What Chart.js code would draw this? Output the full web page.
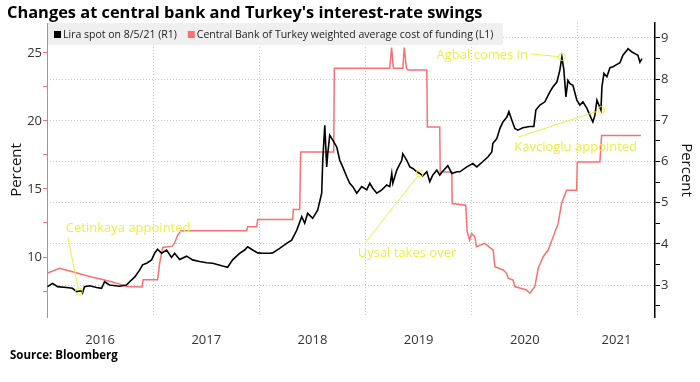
<!DOCTYPE html>
<html><head><meta charset="utf-8">
<script src="https://cdn.jsdelivr.net/npm/chart.js@4.4.1/dist/chart.umd.min.js"></script>
<style>
html,body{margin:0;padding:0;background:#fff;}
#wrap{position:relative;width:700px;height:382px;overflow:hidden;background:#fff;}
canvas{position:absolute;left:0;top:0;}
#title{position:absolute;left:7px;top:0px;font-family:"Open Sans",sans-serif;font-weight:700;font-size:16.4px;line-height:24px;color:#000;white-space:nowrap;}
#source{position:absolute;left:10px;top:347px;font-family:"Open Sans",sans-serif;font-weight:700;font-size:11.5px;line-height:16px;color:#000;white-space:nowrap;}
</style></head><body>
<div id="wrap">
<canvas id="c" width="700" height="382"></canvas>
<div id="title">Changes at central bank and Turkey's interest-rate swings</div>
<div id="source">Source: Bloomberg</div>
</div>
<script>
// ---- data (x in decimal years) ----
const liraT = [2016.005,2016.052,2016.099,2016.184,2016.240,2016.278,2016.325,2016.335,2016.353,2016.401,2016.467,2016.514,2016.542,2016.589,2016.683,2016.749,2016.778,2016.825,2016.872,2016.900,2016.938,2016.985,
2017.013,2017.041,2017.079,2017.126,2017.173,2017.202,2017.249,2017.315,2017.371,2017.437,2017.503,2017.560,2017.654,2017.701,2017.748,2017.814,2017.861,2017.890,2017.937,2017.984,
2018.031,2018.097,2018.125,2018.191,2018.257,2018.304,2018.352,2018.399,2018.427,2018.455,2018.502,2018.549,2018.587,2018.597,2018.616,2018.634,2018.644,2018.663,2018.691,2018.729,2018.757,2018.785,2018.823,2018.851,2018.880,2018.917,2018.964,
2019.011,2019.040,2019.068,2019.106,2019.153,2019.200,2019.228,2019.247,2019.257,2019.294,2019.341,2019.351,2019.388,2019.417,2019.445,2019.483,2019.511,2019.539,2019.577,2019.605,2019.633,2019.671,2019.699,2019.723,2019.775,2019.812,2019.860,2019.888,2019.954,
2020.010,2020.048,2020.105,2020.152,2020.189,2020.199,2020.237,2020.265,2020.294,2020.331,2020.350,2020.378,2020.406,2020.434,2020.481,2020.547,2020.585,2020.604,2020.642,2020.689,2020.736,2020.764,2020.802,2020.830,2020.849,2020.868,2020.887,2020.906,2020.925,2020.953,2020.990,
2021.019,2021.047,2021.085,2021.113,2021.141,2021.160,2021.179,2021.198,2021.217,2021.226,2021.245,2021.273,2021.302,2021.330,2021.368,2021.396,2021.424,2021.462,2021.471,2021.509,2021.537,2021.565,2021.584,2021.603];
const liraV = [2.96,3.04,2.96,2.94,2.92,2.84,2.86,2.81,2.96,2.98,2.94,2.92,3.08,3.00,2.97,3.00,3.08,3.19,3.36,3.49,3.53,3.61,
3.77,3.87,3.77,3.85,3.67,3.77,3.62,3.70,3.61,3.57,3.54,3.53,3.46,3.43,3.61,3.77,3.85,3.93,3.85,3.78,
3.77,3.77,3.78,3.89,4.01,4.09,4.33,4.66,4.50,4.74,4.62,4.82,5.23,6.03,6.88,5.87,6.19,6.64,6.52,6.35,6.03,5.87,5.63,5.47,5.39,5.23,5.39,
5.31,5.47,5.35,5.23,5.31,5.43,5.39,5.71,5.47,5.79,6.03,6.19,6.03,5.87,5.83,5.75,5.71,5.65,5.75,5.51,5.67,5.79,5.67,5.75,5.90,5.71,5.75,5.75,5.87,
5.95,5.87,6.00,6.11,6.23,6.44,6.56,6.80,6.96,7.08,7.21,7.00,6.80,6.76,6.82,6.85,6.85,7.25,7.37,7.45,7.69,7.81,7.93,8.22,8.54,8.22,7.57,7.97,7.89,7.85,7.49,
7.37,7.45,7.29,7.12,6.96,7.12,7.49,7.37,7.25,7.81,8.14,8.06,8.28,8.30,8.36,8.40,8.58,8.70,8.74,8.66,8.62,8.58,8.41,8.50];

const rateT = [2016.000,2016.118,2016.240,2016.401,2016.561,2016.712,2016.749,2016.895,2016.905,2017.041,2017.060,2017.090,2017.180,2017.200,2017.230,2017.260,2017.880,2017.890,2017.975,2017.984,2018.314,2018.320,2018.380,2018.389,2018.700,2018.706,
2019.228,2019.245,2019.262,2019.351,2019.365,2019.385,2019.400,2019.577,2019.582,2019.699,2019.703,2019.812,2019.816,2019.944,2019.957,2019.980,2019.998,2020.029,2020.045,2020.123,2020.202,2020.218,2020.296,2020.328,2020.343,2020.390,2020.406,2020.516,2020.548,2020.595,2020.626,2020.673,2020.720,2020.767,2020.814,2020.846,2020.893,2020.988,2020.994,2021.207,2021.223,2021.594];
const rateV = [8.80,9.17,8.92,8.56,8.27,7.95,7.83,7.80,8.32,8.32,9.50,10.70,10.80,11.00,11.60,11.93,11.93,12.22,12.22,12.76,12.76,13.49,13.49,17.71,17.71,23.87,
23.87,25.40,23.87,23.87,25.40,23.87,23.75,23.75,19.55,19.55,16.25,16.25,13.93,13.81,11.85,11.25,11.73,11.50,10.75,11.00,10.51,9.29,9.05,8.80,8.44,8.30,7.83,7.58,7.34,7.83,9.17,10.02,10.51,11.49,12.47,13.93,14.91,14.91,16.98,16.98,18.94,18.94];

const yearLabels = ['2016','2017','2018','2019','2020','2021'];
const yearLabelPos = [2016.5,2017.5,2018.5,2019.5,2020.5,2021.363];
const yearBounds = [2017,2018,2019,2020,2021];
const leftTicks = [7.5,10,12.5,15,17.5,20,22.5,25];
const rightTicks = [2.5,3,3.5,4,4.5,5,5.5,6,6.5,7,7.5,8,8.5,9];

const annNames = ['Cetinkaya appointed','Uysal takes over','Agbal comes in','Kavcioglu appointed'];
const annDates = [2016.30,2019.51,2020.849,2021.22];

const legendNames = ['Lira spot on 8/5/21 (R1)','Central Bank of Turkey weighted average cost of funding (L1)'];

// ---- styles ----
const RED = '#f87171';
const YEL = '#eeee44';
const GRID = '#c9c9c9';
const FONT = "'Open Sans', sans-serif";
Chart.defaults.font.family = FONT;

// label offsets (pixels, relative to annotated point): text anchor, align, line start
const annStyle = [
  {tx:-13, ty:-63, align:'left',  lx:-11, ly:-54},
  {tx:-62, ty:80,  align:'left',  lx:-55, ly:70},
  {tx:-34, ty:-2,  align:'right', lx:-31, ly:-3},
  {tx:-87, ty:37,  align:'left',  lx:-83, ly:27}
];

function liraAt(t){
  let best=0, bd=1e9;
  liraT.forEach((v,i)=>{const d=Math.abs(v-t); if(d<bd){bd=d;best=i;}});
  return liraV[best];
}

const legendPlugin = {
  id:'bbLegend',
  afterDatasetsDraw(chart){
    const ctx = chart.ctx, a = chart.chartArea;
    ctx.save();
    ctx.fillStyle = '#efefef';
    ctx.fillRect(a.left+1, a.top, 455, 22);
    ctx.font = "10.5px " + FONT;
    ctx.textBaseline = 'middle';
    let x = a.left + 7; const y = a.top + 12;
    const cols = ['#000', RED];
    legendNames.forEach((n,i)=>{
      ctx.fillStyle = cols[i];
      ctx.fillRect(x, y-4, 7, 7);
      x += 9;
      ctx.fillStyle = '#222';
      ctx.fillText(n, x, y);
      x += ctx.measureText(n).width + 11;
    });
    ctx.restore();
  }
};

const annPlugin = {
  id:'bbAnn',
  afterDatasetsDraw(chart){
    const ctx = chart.ctx, xs = chart.scales.x, ys = chart.scales.y1;
    ctx.save();
    ctx.font = "13px " + FONT;
    ctx.textBaseline = 'middle';
    annNames.forEach((n,i)=>{
      const t = annDates[i], v = liraAt(t);
      const px = xs.getPixelForValue(t), py = ys.getPixelForValue(v);
      const s = annStyle[i];
      ctx.strokeStyle = YEL; ctx.lineWidth = 1;
      ctx.beginPath(); ctx.moveTo(px+s.lx, py+s.ly); 
      const dx = px - (px+s.lx), dy = py - (py+s.ly), L = Math.hypot(dx,dy);
      ctx.lineTo(px - dx/L*3.5, py - dy/L*3.5); ctx.stroke();
      ctx.beginPath(); ctx.arc(px, py, 3.5, 0, Math.PI*2); ctx.stroke();
      ctx.fillStyle = YEL; ctx.textAlign = s.align;
      ctx.fillText(n, px+s.tx, py+s.ty);
    });
    ctx.restore();
  }
};

const tickFont = {family:FONT, size:13};

new Chart(document.getElementById('c'), {
  type:'line',
  data:{ datasets:[
    { label:legendNames[0], data: liraT.map((t,i)=>({x:t,y:liraV[i]})), yAxisID:'y1', borderColor:'#000', borderWidth:1.6, pointRadius:0, tension:0, fill:false },
    { label:legendNames[1], data: rateT.map((t,i)=>({x:t,y:rateV[i]})), yAxisID:'y', borderColor:RED, borderWidth:1.5, pointRadius:0, tension:0, fill:false }
  ]},
  options:{
    responsive:false, animation:false, devicePixelRatio:1,
    layout:{ padding:{ top:23, left:0, right:0, bottom:0 } },
    plugins:{ legend:{display:false}, tooltip:{enabled:false}, title:{display:false} },
    scales:{
      x:{ type:'linear', min:2016.0, max:2021.726,
        afterBuildTicks: s => { s.ticks = yearBounds.concat(yearLabelPos).sort((a,b)=>a-b).map(v=>({value:v})); },
        afterFit: s => { s.height = 65; },
        grid:{ color: c => (c.tick && yearBounds.includes(c.tick.value)) ? GRID : 'rgba(0,0,0,0)', drawTicks:false, lineWidth:1 },
        border:{ display:false, dash:[1,2] },
        ticks:{ autoSkip:false, maxRotation:0, padding:15, color:'#333', font:tickFont,
          callback:(v)=>{ const k = yearLabelPos.indexOf(v); return k>=0 ? yearLabels[k] : ''; } }
      },
      y:{ position:'left', min:5.59, max:27.2,
        afterBuildTicks: s => { s.ticks = leftTicks.map(v=>({value:v})); },
        afterFit: s => { s.width = 47; },
        grid:{ drawOnChartArea:false, color:RED, tickColor:RED, tickLength:4 },
        border:{ color:RED, width:1 },
        ticks:{ padding:1, color:'#333', font:tickFont, callback:v => (v%5===0) ? String(v) : '' },
        title:{ display:true, text:'Percent', color:'#111', font:{family:FONT,size:15}, padding:{top:8,bottom:0} }
      },
      y1:{ position:'right', min:2.223, max:9.364,
        afterBuildTicks: s => { s.ticks = rightTicks.map(v=>({value:v})); },
        afterFit: s => { s.width = 45; },
        grid:{ drawOnChartArea:true, color: c => (c.tick && Number.isInteger(c.tick.value)) ? GRID : 'rgba(0,0,0,0)', tickColor:'#000', tickLength:5 },
        border:{ color:'#000', width:1.5, dash:[1,2] },
        ticks:{ padding:1, color:'#333', font:tickFont, callback:v => Number.isInteger(v) ? String(v) : '' },
        title:{ display:true, text:'Percent', color:'#111', font:{family:FONT,size:15}, padding:{top:5,bottom:0} }
      }
    }
  },
  plugins:[legendPlugin, annPlugin]
});
</script>
</body></html>
